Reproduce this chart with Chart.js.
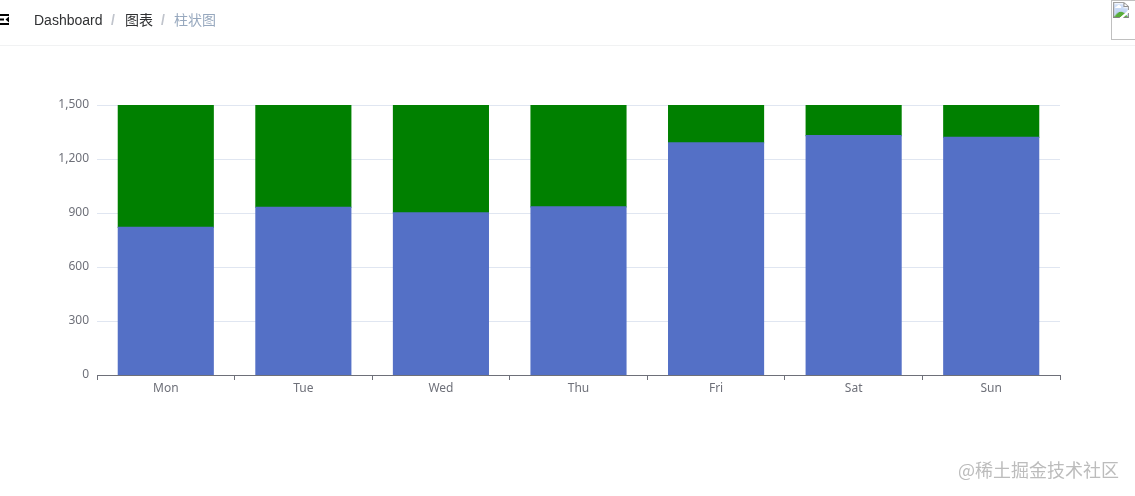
<!DOCTYPE html>
<html><head><meta charset="utf-8">
<script src="https://cdn.jsdelivr.net/npm/chart.js@4"></script>
<style>
html,body{margin:0;padding:0;background:#fff;overflow:hidden;width:1135px;height:496px}
#wrap{position:absolute;left:0;top:0;width:1135px;height:496px}
#hdr{position:absolute;left:0;top:0;width:1135px;height:45px;border-bottom:1.5px solid #f1f2f3}
.t{position:absolute;top:11px;font:14px/18px "Liberation Sans","Noto Sans CJK SC",sans-serif;white-space:nowrap}
.dash{color:#303133}.sep{color:#c0c4cc;font-weight:bold}.last{color:#97a8be}
#menu{position:absolute;left:0;top:14px;width:9px;height:11px}
#avatar{position:absolute;left:1111px;top:0;width:40px;height:40px}
#wm{position:absolute;left:958px;top:457px;font:18px/24px "Noto Sans CJK SC",sans-serif;color:#bcbcbc;white-space:nowrap}
</style></head>
<body>
<div id="wrap"><canvas id="c" width="1135" height="496"></canvas></div>
<div id="hdr">
<svg id="menu" viewBox="0 0 9 11"><path d="M0 1H9M0 10H9M0 5.5H4" stroke="#000" stroke-width="2" fill="none"/><path d="M9 2.5V8.5L5.5 5.5Z" fill="#000"/></svg>
<span class="t dash" style="left:34px">Dashboard</span>
<span class="t sep" style="left:111px">/</span>
<span class="t dash" style="left:125px">图表</span>
<span class="t sep" style="left:161px">/</span>
<span class="t last" style="left:174px">柱状图</span>
<img id="avatar" src="avatar-missing.gif">
</div>
<div id="wm">@稀土掘金技术社区</div>
<script>
const categories = ['Mon','Tue','Wed','Thu','Fri','Sat','Sun'];
const blueValues = [820,932,901,934,1290,1330,1320];
const greenValues = [680,568,599,566,210,170,180];
const yTicks = [0,300,600,900,1200,1500];
const font = {family:'"Noto Sans","Noto Sans CJK SC",sans-serif', size:12};
new Chart(document.getElementById('c'),{
  type:'bar',
  data:{labels:categories,datasets:[
    {label:'blue',data:blueValues,backgroundColor:'#5470c6',barPercentage:0.69,categoryPercentage:1,inflateAmount:0.6},
    {label:'green',data:greenValues,backgroundColor:'#008000',barPercentage:0.69,categoryPercentage:1,inflateAmount:0.6}
  ]},
  options:{
    responsive:false,animation:false,
    layout:{padding:{left:0,right:75,top:105,bottom:81}},
    plugins:{legend:{display:false},tooltip:{enabled:false}},
    scales:{
      x:{stacked:true,
        afterFit(s){s.height=40;},
        grid:{drawOnChartArea:false,offset:true,tickLength:5,tickColor:'#6e7079'},
        border:{color:'#6e7079'},
        ticks:{color:'#6e7079',font,padding:1,maxRotation:0}},
      y:{stacked:true,min:0,max:1500,
        afterFit(s){s.width=97;},
        afterBuildTicks(s){s.ticks=yTicks.map(v=>({value:v}));},
        grid:{color:'#e0e6f1',drawTicks:false},
        border:{display:false},
        ticks:{color:'#6e7079',font,padding:8,callback:v=>v.toLocaleString('en-US')}}
    }
  }
});
</script>
</body></html>
